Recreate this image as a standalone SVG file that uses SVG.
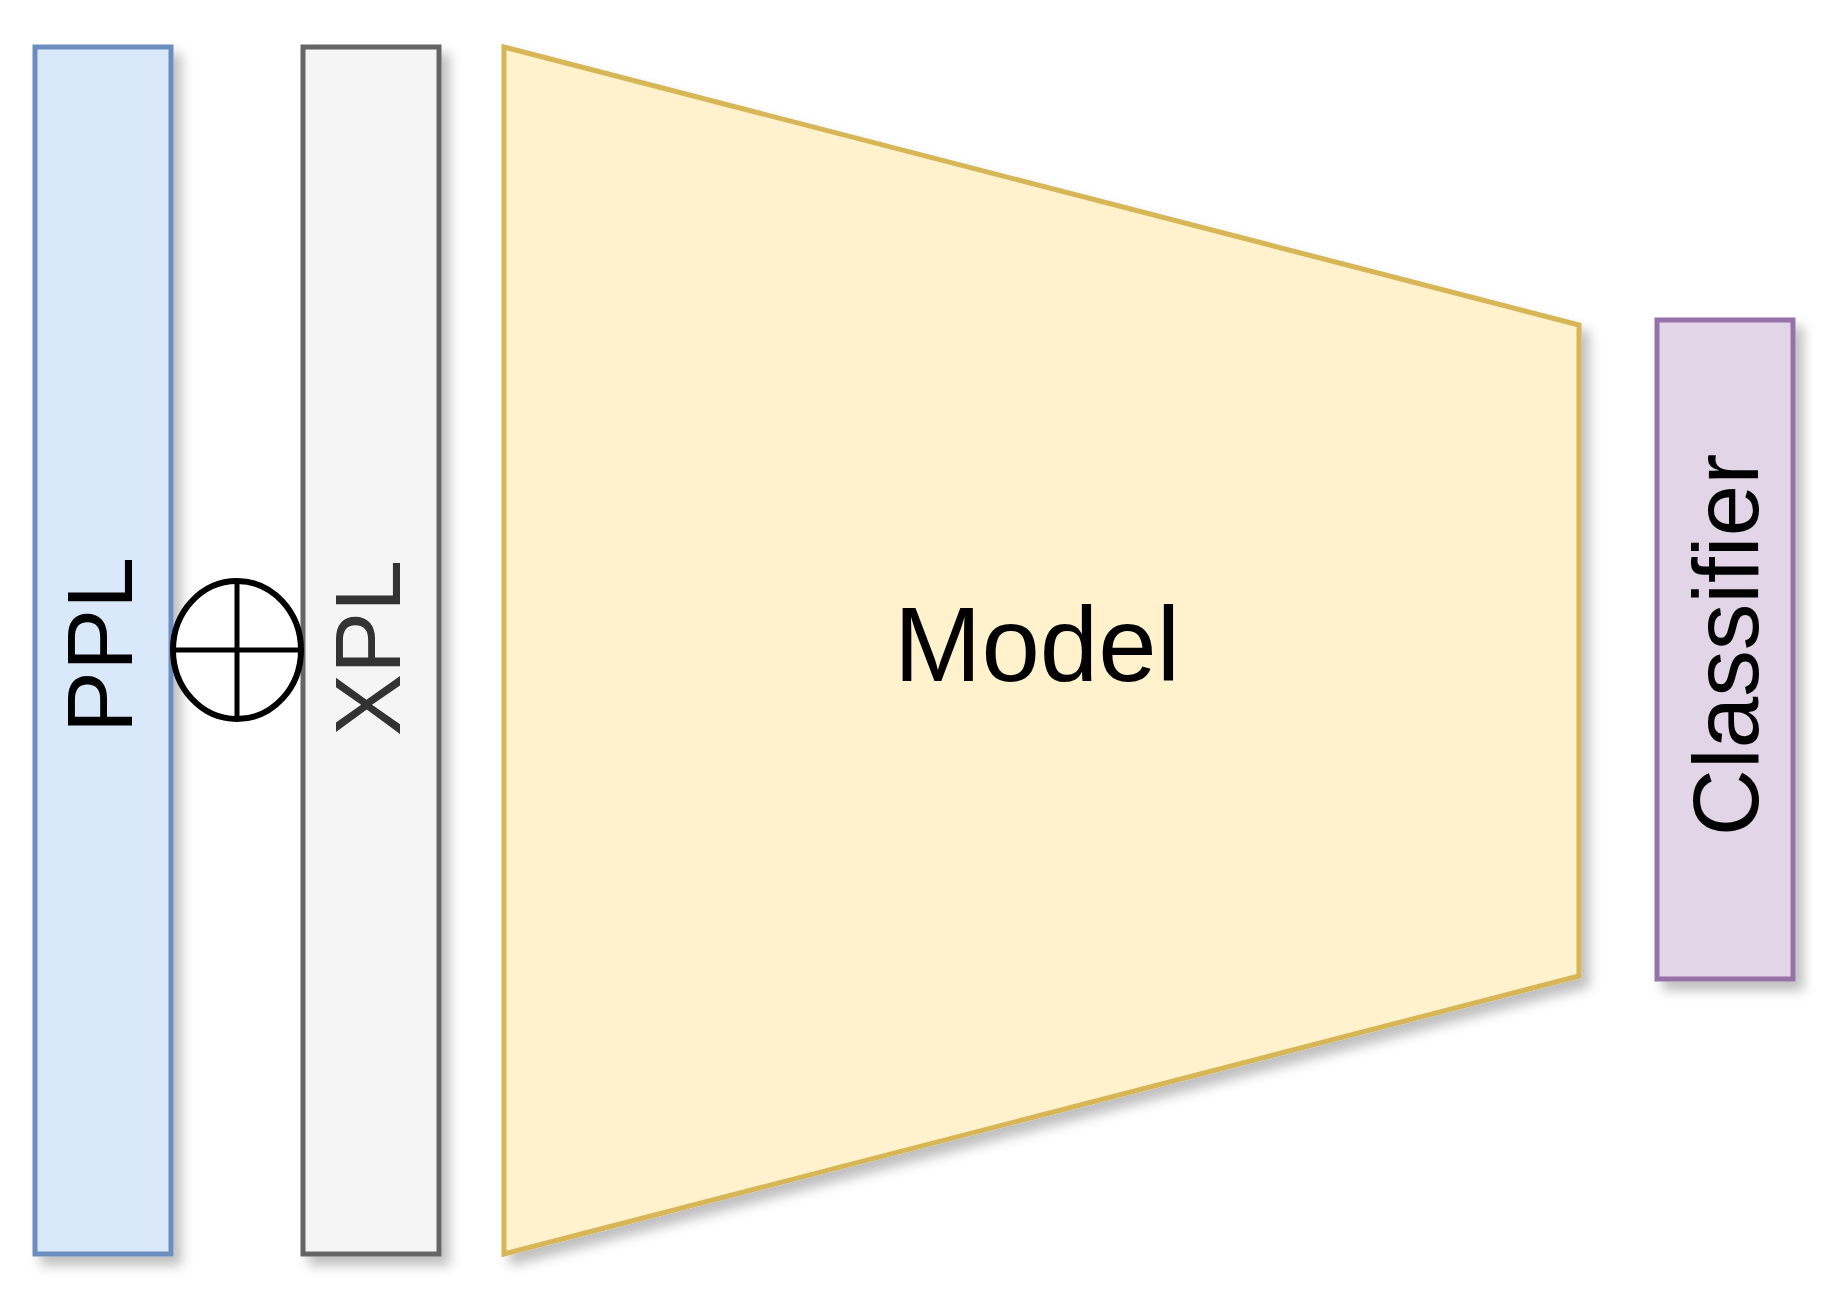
<svg xmlns="http://www.w3.org/2000/svg" width="1837" height="1306" viewBox="0 0 1837 1306">
<defs>
<filter id="sh" x="-20%" y="-20%" width="140%" height="140%"><feDropShadow dx="8" dy="9" stdDeviation="6" flood-color="#000" flood-opacity="0.25"/></filter>
<style>
.t{font-family:"Liberation Sans",Arial,sans-serif;font-size:93px;text-anchor:middle;dominant-baseline:central}
</style>
</defs>
<rect width="1837" height="1306" fill="#fff"/>
<g id="ppl"><rect x="35" y="47" width="136" height="1207" fill="#dae8fc" stroke="#6c8ebf" stroke-width="5" filter="url(#sh)"/>
<text class="t" transform="translate(100,645) rotate(-90)" fill="#000">PPL</text></g>
<g id="xpl"><rect x="303" y="47" width="136" height="1207" fill="#f5f5f5" stroke="#666" stroke-width="5" filter="url(#sh)"/>
<text class="t" transform="translate(368,648) rotate(-90)" fill="#333">XPL</text></g>
<g id="model"><polygon points="504,47 1579,325 1579,976 504,1254" fill="#fff2cc" stroke="#d6b656" stroke-width="5" filter="url(#sh)"/>
<text class="t" x="1037" y="644" style="font-size:105px">Model</text></g>
<g id="classifier"><rect x="1657" y="320" width="136" height="659" fill="#e1d5e7" stroke="#9673a6" stroke-width="5" filter="url(#sh)"/>
<text class="t" transform="translate(1726,645) rotate(-90)" fill="#000">Classifier</text></g>
<g id="plus"><ellipse cx="237" cy="650" rx="64" ry="69" fill="#fff" stroke="#000" stroke-width="6"/>
<line x1="173" y1="650" x2="301" y2="650" stroke="#000" stroke-width="5"/><line x1="237" y1="581" x2="237" y2="719" stroke="#000" stroke-width="5"/></g>
<g id="connectors"/>
</svg>
